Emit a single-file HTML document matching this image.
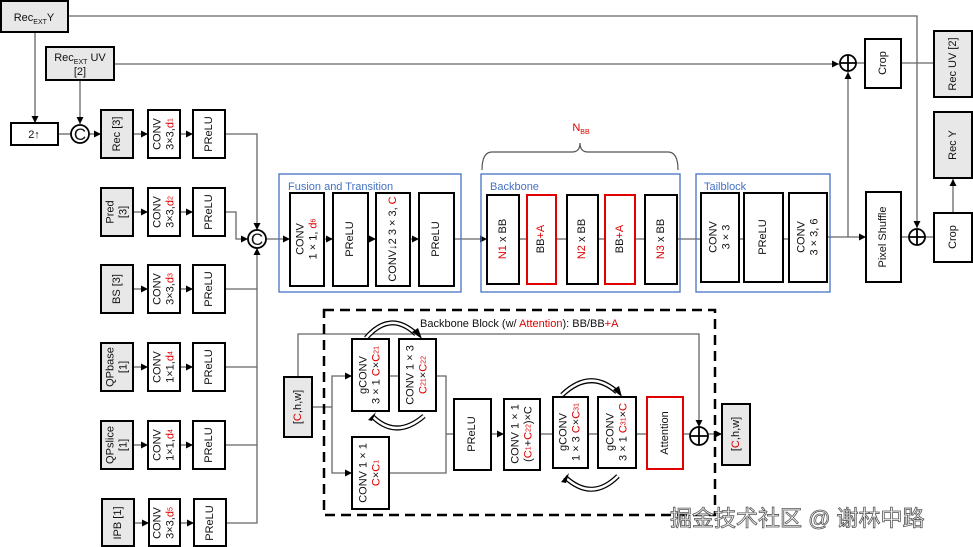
<!DOCTYPE html>
<html><head><meta charset="utf-8"><style>
html,body{margin:0;padding:0;background:#fff}
svg{display:block}
text{font-family:"Liberation Sans",sans-serif;font-size:11px;fill:#111}
.r{fill:#e00000}
.b{fill:#4472c4;font-size:11px}
.s{font-size:7px}
</style></head><body>
<svg width="973" height="547" viewBox="0 0 973 547" xmlns="http://www.w3.org/2000/svg">
<defs>
<marker id="a" viewBox="0 0 10 10" refX="10" refY="5" markerWidth="7" markerHeight="7" orient="auto" markerUnits="userSpaceOnUse"><path d="M0,0L10,5L0,10z" fill="#000"/></marker>
</defs>
<g fill="none" stroke="#666" stroke-width="1.3">
<polyline points="68,16 917,16 917,228" marker-end="url(#a)"/>
<polyline points="114,64 839,64" marker-end="url(#a)"/>
<polyline points="35,32 35,123" marker-end="url(#a)"/>
<polyline points="80,80 80,124" marker-end="url(#a)"/>
<line x1="58" y1="134" x2="71" y2="134"/>
<line x1="89" y1="134" x2="101" y2="134" marker-end="url(#a)"/>
<line x1="133" y1="134" x2="148" y2="134" marker-end="url(#a)"/><line x1="180" y1="134" x2="193" y2="134" marker-end="url(#a)"/>
<line x1="133" y1="212" x2="148" y2="212" marker-end="url(#a)"/><line x1="180" y1="212" x2="193" y2="212" marker-end="url(#a)"/>
<line x1="133" y1="289" x2="148" y2="289" marker-end="url(#a)"/><line x1="180" y1="289" x2="193" y2="289" marker-end="url(#a)"/>
<line x1="133" y1="367" x2="148" y2="367" marker-end="url(#a)"/><line x1="180" y1="367" x2="193" y2="367" marker-end="url(#a)"/>
<line x1="133" y1="445" x2="148" y2="445" marker-end="url(#a)"/><line x1="180" y1="445" x2="193" y2="445" marker-end="url(#a)"/>
<line x1="134" y1="523" x2="149" y2="523" marker-end="url(#a)"/><line x1="180" y1="523" x2="194" y2="523" marker-end="url(#a)"/>
<polyline points="225,134 257,134 257,230" marker-end="url(#a)"/>
<polyline points="225,212 236,212 236,239 248,239" marker-end="url(#a)"/>
<polyline points="226,523 257,523 257,248" marker-end="url(#a)"/>
<line x1="225" y1="289" x2="257" y2="289"/><line x1="225" y1="367" x2="257" y2="367"/><line x1="225" y1="445" x2="257" y2="445"/>
<line x1="266" y1="239" x2="290" y2="239" marker-end="url(#a)"/>
<line x1="324" y1="239" x2="333" y2="239" marker-end="url(#a)"/>
<line x1="368" y1="239" x2="376" y2="239" marker-end="url(#a)"/>
<line x1="410" y1="239" x2="419" y2="239" marker-end="url(#a)"/>
<line x1="454" y1="239" x2="487" y2="239" marker-end="url(#a)"/>
<line x1="519" y1="239" x2="527" y2="239"/><line x1="556" y1="239" x2="567" y2="239"/><line x1="598" y1="239" x2="605" y2="239"/><line x1="635" y1="239" x2="645" y2="239"/>
<line x1="677" y1="239" x2="701" y2="239"/><line x1="739" y1="239" x2="744" y2="239"/><line x1="783" y1="239" x2="789" y2="239"/>
<line x1="827" y1="237" x2="866" y2="237" marker-end="url(#a)"/>
<polyline points="848,237 848,72" marker-end="url(#a)"/>
<line x1="856" y1="63" x2="865" y2="63"/><line x1="901" y1="63" x2="934" y2="63"/>
<line x1="901" y1="237" x2="909" y2="237"/><line x1="925" y1="237" x2="934" y2="237"/>
<line x1="953" y1="213" x2="953" y2="179" marker-end="url(#a)"/>
<polyline points="298,377 298,334 699,334 699,427" marker-end="url(#a)"/>
<line x1="312" y1="407" x2="332" y2="407"/>
<polyline points="332,407 332,376 352,376" marker-end="url(#a)"/>
<polyline points="332,407 332,473 352,473" marker-end="url(#a)"/>
<line x1="389" y1="376" x2="399" y2="376"/>
<polyline points="436,376 446,376 446,473 389,473"/>
<line x1="446" y1="434" x2="454" y2="434"/>
<line x1="491" y1="434" x2="504" y2="434" marker-end="url(#a)"/>
<line x1="540" y1="434" x2="553" y2="434"/><line x1="588" y1="434" x2="598" y2="434"/><line x1="636" y1="434" x2="647" y2="434"/><line x1="683" y1="434" x2="690" y2="434"/>
<line x1="708" y1="434" x2="722" y2="434" marker-end="url(#a)"/>
</g>
<path d="M482,170 Q482,152 492,152 L572,152 Q580,152 580,143 Q580,152 588,152 L668,152 Q678,152 678,170" fill="none" stroke="#555" stroke-width="1.2"/>
<text x="581" y="131" text-anchor="middle" class="r">N<tspan class="s r" dy="3">BB</tspan></text>
<g fill="none" stroke="#4472c4" stroke-width="1.3">
<rect x="279" y="174" width="182" height="118"/><rect x="481" y="174" width="199" height="118"/><rect x="696" y="174" width="134" height="118"/>
</g>
<text x="288" y="190" class="b">Fusion and Transition</text>
<text x="490" y="190" class="b">Backbone</text>
<text x="704" y="190" class="b">Tailblock</text>
<rect x="324" y="310" width="391" height="205" fill="none" stroke="#000" stroke-width="2.5" stroke-dasharray="10,6"/>
<text x="420" y="327">Backbone Block (w/ <tspan class="r">Attention</tspan>): BB/BB<tspan class="r">+A</tspan></text>
<!-- curved arrows -->
<g fill="none" stroke="#000" stroke-width="5">
<path d="M366,338 Q390,310 416,334"/><path d="M372,416 Q396,440 424,416"/><path d="M562,395 Q590,368 617,392"/><path d="M565,477 Q592,502 618,476"/>
</g>
<g fill="none" stroke="#fff" stroke-width="2.5">
<path d="M366,338 Q390,310 416,334"/><path d="M372,416 Q396,440 424,416"/><path d="M562,395 Q590,368 617,392"/><path d="M565,477 Q592,502 618,476"/>
</g>
<g fill="#000"><path d="M412,332L422,339L418,328z"/><path d="M376,412L368,420L372,421z"/><path d="M613,390L622,397L619,386z"/><path d="M569,473L561,482L566,483z"/></g>
<g stroke="#000" stroke-width="2" fill="#e8e8e8">
<rect x="1" y="1" width="67" height="31"/><rect x="46" y="47" width="68" height="33"/>
<rect x="101" y="110" width="32" height="48"/><rect x="101" y="188" width="32" height="48"/><rect x="101" y="265" width="32" height="48"/><rect x="101" y="343" width="32" height="48"/><rect x="101" y="421" width="32" height="48"/><rect x="102" y="499" width="32" height="47"/>
<rect x="934" y="31" width="38" height="66"/><rect x="934" y="112" width="38" height="66"/>
<rect x="284" y="377" width="28" height="60"/><rect x="722" y="404" width="28" height="61"/>
</g>
<g stroke="#000" stroke-width="2" fill="#fff">
<rect x="11" y="123" width="47" height="22"/>
<rect x="148" y="110" width="32" height="48"/><rect x="148" y="188" width="32" height="48"/><rect x="148" y="265" width="32" height="48"/><rect x="148" y="343" width="32" height="48"/><rect x="148" y="421" width="32" height="48"/><rect x="149" y="499" width="31" height="47"/>
<rect x="193" y="110" width="32" height="48"/><rect x="193" y="188" width="32" height="48"/><rect x="193" y="265" width="32" height="48"/><rect x="193" y="343" width="32" height="48"/><rect x="193" y="421" width="32" height="48"/><rect x="194" y="499" width="32" height="47"/>
<rect x="290" y="193" width="34" height="93"/><rect x="333" y="193" width="35" height="93"/><rect x="376" y="193" width="34" height="93"/><rect x="419" y="193" width="35" height="93"/>
<rect x="487" y="195" width="32" height="89"/><rect x="567" y="195" width="31" height="89"/><rect x="645" y="195" width="32" height="89"/>
<rect x="701" y="193" width="38" height="89"/><rect x="744" y="193" width="39" height="89"/><rect x="789" y="193" width="38" height="89"/>
<rect x="866" y="192" width="35" height="90"/><rect x="865" y="39" width="36" height="49"/><rect x="934" y="213" width="38" height="49"/>
<rect x="352" y="339" width="37" height="72"/><rect x="399" y="339" width="37" height="72"/><rect x="352" y="437" width="37" height="72"/>
<rect x="454" y="399" width="37" height="71"/><rect x="504" y="399" width="36" height="71"/><rect x="553" y="397" width="35" height="71"/><rect x="598" y="397" width="38" height="71"/>
</g>
<g stroke="#e00000" stroke-width="2" fill="#fff">
<rect x="527" y="195" width="29" height="89"/><rect x="605" y="195" width="30" height="89"/><rect x="647" y="397" width="36" height="72"/>
</g>
<g stroke="#000" stroke-width="1.8" fill="#fff">
<circle cx="80" cy="134" r="9"/><circle cx="257" cy="239" r="9"/>
<circle cx="848" cy="63" r="8"/><circle cx="917" cy="237" r="8"/><circle cx="699" cy="436" r="9"/>
</g>
<g stroke="#000" stroke-width="1.8">
<path d="M840,63H856M848,55V71M909,237H925M917,229V245M690,436H708M699,427V445"/>
</g>
<text x="80" y="140" text-anchor="middle" style="font-size:17px">C</text>
<text x="257" y="245" text-anchor="middle" style="font-size:17px">C</text>
<text x="34" y="21" text-anchor="middle">Rec<tspan class="s" dy="3">EXT</tspan><tspan dy="-3">Y</tspan></text>
<text x="80" y="61" text-anchor="middle">Rec<tspan class="s" dy="3">EXT</tspan><tspan dy="-3"> UV</tspan></text>
<text x="80" y="75" text-anchor="middle">[2]</text>
<text x="34" y="138" text-anchor="middle">2↑</text>
<g text-anchor="middle" dominant-baseline="central">
<text transform="translate(117,134) rotate(-90)">Rec [3]</text>
<text transform="translate(117,212) rotate(-90)"><tspan x="0" dy="-0.6em">Pred</tspan><tspan x="0" dy="1.2em">[3]</tspan></text>
<text transform="translate(117,289) rotate(-90)">BS [3]</text>
<text transform="translate(117,367) rotate(-90)"><tspan x="0" dy="-0.6em">QPbase</tspan><tspan x="0" dy="1.2em">[1]</tspan></text>
<text transform="translate(117,445) rotate(-90)"><tspan x="0" dy="-0.6em">QPslice</tspan><tspan x="0" dy="1.2em">[1]</tspan></text>
<text transform="translate(118,523) rotate(-90)">IPB [1]</text>
<text transform="translate(164,134) rotate(-90)"><tspan x="0" dy="-0.6em">CONV</tspan><tspan x="0" dy="1.2em">3×3,<tspan class="r">d</tspan><tspan class="s r">1</tspan></tspan></text>
<text transform="translate(164,212) rotate(-90)"><tspan x="0" dy="-0.6em">CONV</tspan><tspan x="0" dy="1.2em">3×3,<tspan class="r">d</tspan><tspan class="s r">2</tspan></tspan></text>
<text transform="translate(164,289) rotate(-90)"><tspan x="0" dy="-0.6em">CONV</tspan><tspan x="0" dy="1.2em">3×3,<tspan class="r">d</tspan><tspan class="s r">3</tspan></tspan></text>
<text transform="translate(164,367) rotate(-90)"><tspan x="0" dy="-0.6em">CONV</tspan><tspan x="0" dy="1.2em">1×1,<tspan class="r">d</tspan><tspan class="s r">4</tspan></tspan></text>
<text transform="translate(164,445) rotate(-90)"><tspan x="0" dy="-0.6em">CONV</tspan><tspan x="0" dy="1.2em">1×1,<tspan class="r">d</tspan><tspan class="s r">4</tspan></tspan></text>
<text transform="translate(164,523) rotate(-90)"><tspan x="0" dy="-0.6em">CONV</tspan><tspan x="0" dy="1.2em">3×3,<tspan class="r">d</tspan><tspan class="s r">5</tspan></tspan></text>
<text transform="translate(209,134) rotate(-90)">PReLU</text>
<text transform="translate(209,212) rotate(-90)">PReLU</text>
<text transform="translate(209,289) rotate(-90)">PReLU</text>
<text transform="translate(209,367) rotate(-90)">PReLU</text>
<text transform="translate(209,445) rotate(-90)">PReLU</text>
<text transform="translate(210,523) rotate(-90)">PReLU</text>
<text transform="translate(307,239) rotate(-90)"><tspan x="0" dy="-0.6em">CONV</tspan><tspan x="0" dy="1.2em">1 × 1, <tspan class="r">d</tspan><tspan class="s r">6</tspan></tspan></text>
<text transform="translate(350,239) rotate(-90)">PReLU</text>
<text transform="translate(393,239) rotate(-90)">CONV↓2 3 × 3, <tspan class="r">C</tspan></text>
<text transform="translate(436,239) rotate(-90)">PReLU</text>
<text transform="translate(503,239) rotate(-90)"><tspan class="r">N1</tspan> x BB</text>
<text transform="translate(541,239) rotate(-90)">BB<tspan class="r">+A</tspan></text>
<text transform="translate(582,239) rotate(-90)"><tspan class="r">N2</tspan> x BB</text>
<text transform="translate(620,239) rotate(-90)">BB<tspan class="r">+A</tspan></text>
<text transform="translate(661,239) rotate(-90)"><tspan class="r">N3</tspan> x BB</text>
<text transform="translate(720,237) rotate(-90)"><tspan x="0" dy="-0.6em">CONV</tspan><tspan x="0" dy="1.2em">3 × 3</tspan></text>
<text transform="translate(763,237) rotate(-90)">PReLU</text>
<text transform="translate(808,237) rotate(-90)"><tspan x="0" dy="-0.6em">CONV</tspan><tspan x="0" dy="1.2em">3 × 3, 6</tspan></text>
<text transform="translate(883,237) rotate(-90)">Pixel Shuffle</text>
<text transform="translate(883,63) rotate(-90)">Crop</text>
<text transform="translate(953,237) rotate(-90)">Crop</text>
<text transform="translate(953,64) rotate(-90)">Rec UV [2]</text>
<text transform="translate(953,145) rotate(-90)">Rec Y</text>
<text transform="translate(298,407) rotate(-90)">[<tspan class="r">C</tspan>,h,w]</text>
<text transform="translate(736,434) rotate(-90)">[<tspan class="r">C</tspan>,h,w]</text>
<text transform="translate(370,375) rotate(-90)"><tspan x="0" dy="-0.6em">gCONV</tspan><tspan x="0" dy="1.2em">3 × 1 <tspan class="r">C</tspan>×<tspan class="r">C</tspan><tspan class="s r">21</tspan></tspan></text>
<text transform="translate(417,375) rotate(-90)"><tspan x="0" dy="-0.6em">CONV 1 × 3</tspan><tspan x="0" dy="1.2em"><tspan class="r">C</tspan><tspan class="s r">21</tspan>×<tspan class="r">C</tspan><tspan class="s r">22</tspan></tspan></text>
<text transform="translate(370,473) rotate(-90)"><tspan x="0" dy="-0.6em">CONV 1 × 1</tspan><tspan x="0" dy="1.2em"><tspan class="r">C</tspan>×<tspan class="r">C</tspan><tspan class="s r">1</tspan></tspan></text>
<text transform="translate(472,434) rotate(-90)">PReLU</text>
<text transform="translate(522,434) rotate(-90)"><tspan x="0" dy="-0.6em">CONV 1 × 1</tspan><tspan x="0" dy="1.2em">(<tspan class="r">C</tspan><tspan class="s r">1</tspan>+<tspan class="r">C</tspan><tspan class="s r">22</tspan>)×C</tspan></text>
<text transform="translate(570,432) rotate(-90)"><tspan x="0" dy="-0.6em">gCONV</tspan><tspan x="0" dy="1.2em">1 × 3 <tspan class="r">C</tspan>×<tspan class="r">C</tspan><tspan class="s r">31</tspan></tspan></text>
<text transform="translate(617,432) rotate(-90)"><tspan x="0" dy="-0.6em">gCONV</tspan><tspan x="0" dy="1.2em">3 × 1 <tspan class="r">C</tspan><tspan class="s r">31</tspan>×<tspan class="r">C</tspan></tspan></text>
<text transform="translate(665,433) rotate(-90)">Attention</text>
</g>
<text x="670" y="526" style="font-family:'Liberation Sans','Noto Sans CJK SC',sans-serif;font-size:22px;fill:#fff;stroke:#555;stroke-width:0.8">掘金技术社区 @ 谢林中路</text>
</svg>
</body></html>
